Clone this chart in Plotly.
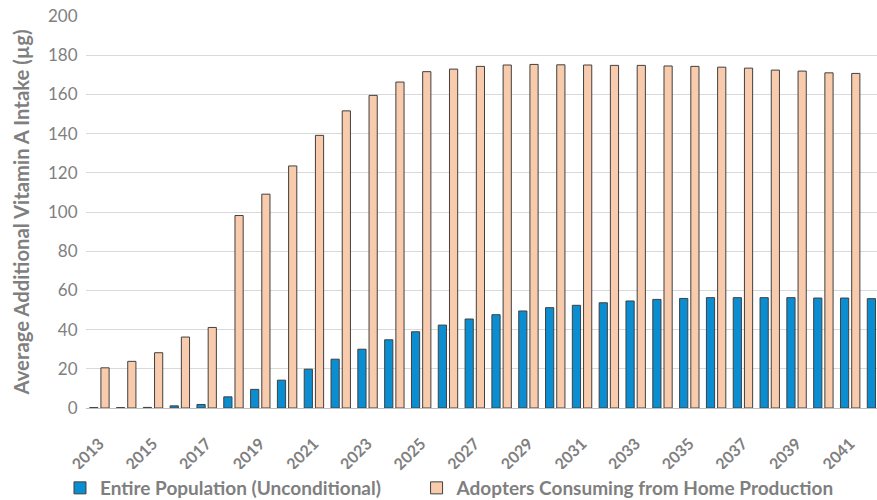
import plotly.graph_objects as go

years = [str(y) for y in range(2013, 2043)]
entire_population = [0.2, 0.2, 0.3, 1.1, 1.8, 5.7, 9.5, 14.2, 19.8, 24.9,
                     30.0, 34.8, 38.9, 42.3, 45.4, 47.6, 49.5, 51.2, 52.4, 53.7,
                     54.6, 55.4, 55.9, 56.3, 56.3, 56.3, 56.3, 56.1, 56.1, 55.8]
adopters = [20.5, 23.8, 28.2, 36.2, 41.1, 98.2, 109.1, 123.5, 139.1, 151.6,
            159.5, 166.3, 171.6, 172.9, 174.3, 175.0, 175.3, 175.1, 175.0, 174.8,
            174.8, 174.5, 174.3, 173.9, 173.4, 172.4, 171.9, 171.0, 170.7, 170.3]
tick_labels = years[::2]
y_ticks = list(range(0, 201, 20))

grey = "#7f7f7f"
legend_font = dict(size=19, family="Lato", color=grey, weight="bold")
fig = go.Figure()
fig.add_trace(go.Bar(x=years, y=entire_population, name="Entire Population (Unconditional)",
                     marker=dict(color="#0B8DD1", line=dict(color="#404040", width=1)),
                     legend="legend"))
fig.add_trace(go.Bar(x=years, y=adopters, name="Adopters Consuming from Home Production",
                     marker=dict(color="#F8CBAD", line=dict(color="#404040", width=1)),
                     legend="legend2"))

fig.update_layout(
    width=877, height=500,
    margin=dict(l=86, r=0, t=16, b=92, autoexpand=False),
    paper_bgcolor="white", plot_bgcolor="white",
    barmode="group", bargap=0.164, bargroupgap=0.268,
    font=dict(family="Lato", color=grey),
    showlegend=True,
    legend=dict(orientation="h", xref="container", yref="container",
                x=0.0684, xanchor="left", y=0.024, yanchor="middle", font=legend_font),
    legend2=dict(orientation="h", xref="container", yref="container",
                 x=0.475, xanchor="left", y=0.024, yanchor="middle", font=legend_font),
    xaxis=dict(type="category", range=[-0.5, 29.0], tickmode="array",
               tickvals=tick_labels, ticktext=tick_labels, tickangle=-45,
               tickfont=dict(size=16, family="Lato", color=grey, weight="bold"),
               ticklabelstandoff=19, ticklabelshift=0,
               showgrid=False, showline=True, linecolor="#bfbfbf", linewidth=1,
               ticks="", automargin=False),
    yaxis=dict(range=[0, 200], tickvals=y_ticks, showgrid=True, gridcolor="#d9d9d9",
               gridwidth=1, zeroline=False, ticks="outside", ticklen=4, tickcolor="white",
               tickfont=dict(size=17, family="Lato", color=grey), automargin=False,
               title=dict(text="Average Additional Vitamin A Intake (µg)", standoff=12,
                          font=dict(size=20.3, family="Lato", color=grey, weight="bold"))),
)
fig.write_html("out.html", post_script="document.body.style.margin='0px';",
               config={"displayModeBar": False})
